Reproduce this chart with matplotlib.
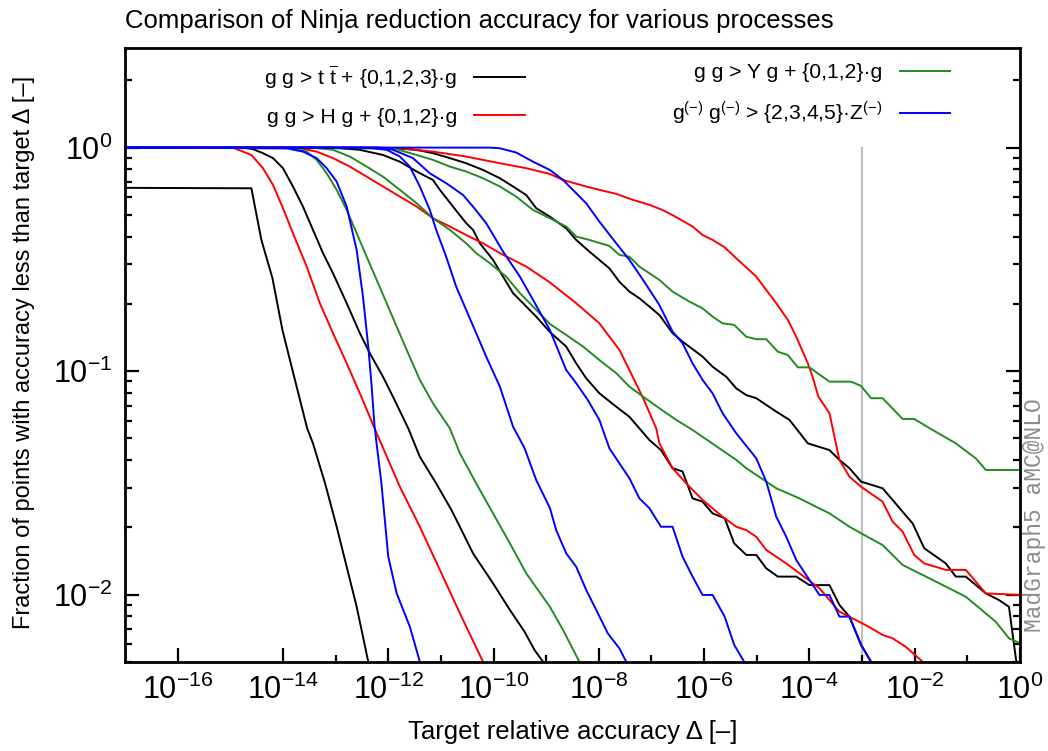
import matplotlib
matplotlib.use("Agg")
import matplotlib.pyplot as plt
import numpy as np
from matplotlib.ticker import FixedLocator, LogLocator, NullFormatter

plt.rcParams['font.family'] = ['Liberation Sans', 'DejaVu Sans']
plt.rcParams['mathtext.fontset'] = 'custom'
plt.rcParams['mathtext.rm'] = 'Liberation Sans'
plt.rcParams['mathtext.it'] = 'Liberation Sans:italic'
plt.rcParams['mathtext.bf'] = 'Liberation Sans:bold'

# curves, stored as log10(Delta) and log10(fraction)
# g g > t tbar + {0,1,2,3} g  (black)
tt0_x = [-17.0, -14.60, -14.41, -14.20, -14.01, -13.82, -13.54, -13.43, -13.20, -12.98, -12.79, -12.60, -12.38]
tt0_y = [-0.180, -0.182, -0.413, -0.584, -0.816, -0.995, -1.256, -1.323, -1.502, -1.696, -1.875, -2.054, -2.300]
tt1_x = [-17.0, -14.76, -14.57, -14.38, -14.19, -14.00, -13.81, -13.62, -13.43, -13.24, -13.05, -12.79, -12.54, -12.35,
         -12.10, -11.88, -11.62, -11.40, -11.09, -10.80, -10.64, -10.39, -10.01, -9.69, -9.41, -9.22, -9.06]
tt1_y = [0, 0, -0.007, -0.025, -0.047, -0.092, -0.174, -0.264, -0.368, -0.472, -0.562, -0.696, -0.830, -0.920,
         -1.025, -1.129, -1.256, -1.383, -1.502, -1.621, -1.696, -1.815, -1.949, -2.068, -2.166, -2.248, -2.300]
tt2_x = [-17.0, -13.05, -12.54, -12.10, -11.78, -11.46, -11.15, -11.02, -10.77, -10.52, -10.39, -10.26, -10.01, -9.82,
         -9.63, -9.44, -9.19, -8.93, -8.62, -8.43, -8.24, -7.99, -7.67, -7.42, -7.04, -6.82, -6.60, -6.41, -6.22,
         -6.03, -5.84, -5.61, -5.43, -5.20, -5.01, -4.82, -4.60, -4.25, -4.00, -3.62, -3.43, -3.24, -3.02, -2.83]
tt2_y = [0, 0, -0.010, -0.033, -0.063, -0.107, -0.145, -0.189, -0.264, -0.338, -0.368, -0.428, -0.502, -0.577,
         -0.651, -0.696, -0.756, -0.825, -0.890, -0.965, -1.032, -1.099, -1.159, -1.204, -1.308, -1.353, -1.434, -1.449, -1.569,
         -1.584, -1.636, -1.658, -1.770, -1.822, -1.822, -1.882, -1.919, -1.919, -1.957, -1.957, -2.046, -2.098, -2.224, -2.300]
tt3_x = [-17.0, -11.91, -11.46, -11.15, -10.83, -10.52, -10.20, -9.88, -9.63, -9.38, -9.19, -8.93, -8.62, -8.43,
         -8.18, -7.80, -7.61, -7.42, -7.23, -7.04, -6.85, -6.60, -6.41, -6.03, -5.84, -5.58, -5.39, -5.20, -5.01,
         -4.63, -4.38, -4.03, -3.62, -3.43, -3.24, -3.02, -2.61, -2.42, -2.23, -2.04, -1.82, -1.41, -1.22, -1.03,
         -0.65, -0.40, -0.21, -0.07]
tt3_y = [0, -0.003, -0.010, -0.025, -0.047, -0.070, -0.100, -0.137, -0.174, -0.212, -0.271, -0.309, -0.361, -0.413,
         -0.465, -0.540, -0.600, -0.644, -0.674, -0.711, -0.749, -0.830, -0.868, -0.935, -0.980, -1.025, -1.077, -1.107, -1.121,
         -1.181, -1.218, -1.323, -1.353, -1.397, -1.434, -1.494, -1.524, -1.576, -1.629, -1.681, -1.792, -1.860, -1.919, -1.919,
         -1.994, -2.024, -2.054, -2.300]

# g g > H g + {0,1,2} g  (red)
h0_x = [-17.0, -14.95, -14.60, -14.38, -14.19, -14.00, -13.81, -13.55, -13.30, -13.05, -12.79, -12.54, -12.22, -11.78,
        -11.40, -11.02, -10.64, -10.20]
h0_y = [0, 0, -0.033, -0.092, -0.167, -0.271, -0.383, -0.532, -0.696, -0.830, -0.965, -1.099, -1.278, -1.517,
        -1.696, -1.889, -2.083, -2.300]
h1_x = [-17.0, -13.68, -13.36, -13.05, -12.73, -12.41, -12.10, -11.78, -11.46, -11.15, -10.83, -10.52, -10.20, -9.88,
        -9.38, -8.93, -8.43, -7.99, -7.61, -7.42, -7.16, -6.91, -6.85, -6.60, -6.34, -6.03, -5.65, -5.39, -5.20,
        -5.01, -4.82, -4.44, -4.19, -3.81, -3.43, -3.18, -2.93, -2.61, -2.42, -2.17, -1.85]
h1_y = [0, -0.003, -0.018, -0.047, -0.085, -0.130, -0.174, -0.219, -0.264, -0.316, -0.353, -0.391, -0.428, -0.472,
        -0.532, -0.603, -0.696, -0.786, -0.905, -0.995, -1.120, -1.256, -1.323, -1.434, -1.502, -1.576, -1.651, -1.696, -1.711,
        -1.741, -1.800, -1.860, -1.904, -1.971, -2.076, -2.106, -2.136, -2.180, -2.195, -2.233, -2.300]
h2_x = [-17.0, -12.16, -11.78, -11.15, -10.52, -9.88, -9.38, -8.93, -8.68, -8.24, -7.99, -7.67, -7.35, -7.04, -6.79,
        -6.53, -6.22, -6.03, -5.84, -5.61, -5.39, -5.01, -4.82, -4.63, -4.41, -4.25, -4.03, -3.94, -3.83, -3.62,
        -3.43, -3.24, -3.02, -2.61, -2.42, -2.23, -2.01, -1.82, -1.41, -1.03, -0.65, 0.0]
h2_y = [0, 0, -0.003, -0.018, -0.040, -0.070, -0.092, -0.118, -0.145, -0.174, -0.189, -0.207, -0.234, -0.256, -0.279,
        -0.311, -0.353, -0.391, -0.413, -0.446, -0.495, -0.577, -0.637, -0.696, -0.771, -0.846, -0.965, -1.025, -1.114, -1.188,
        -1.397, -1.472, -1.517, -1.584, -1.673, -1.718, -1.822, -1.860, -1.889, -1.889, -1.994, -2.001]

# g g > Y g + {0,1,2} g  (green)
y0_x = [-17.0, -13.81, -13.55, -13.36, -13.17, -12.98, -12.79, -12.60, -12.41, -12.22, -12.03, -11.84, -11.65, -11.40,
        -11.15, -10.83, -10.64, -10.33, -10.01, -9.69, -9.38, -8.93, -8.68, -8.37]
y0_y = [0, -0.003, -0.018, -0.055, -0.115, -0.189, -0.279, -0.383, -0.488, -0.592, -0.696, -0.801, -0.905, -1.039,
        -1.144, -1.256, -1.367, -1.502, -1.636, -1.770, -1.904, -2.054, -2.158, -2.300]
y1_x = [-17.0, -13.43, -13.05, -12.73, -12.41, -12.10, -11.78, -11.46, -11.15, -10.83, -10.52, -10.33, -10.07, -9.76,
        -9.50, -9.25, -8.93, -8.62, -8.30, -7.99, -7.67, -7.42, -7.16, -6.85, -6.53, -6.22, -5.39, -5.20, -4.63,
        -4.19, -3.88, -3.62, -3.24, -3.02, -2.61, -2.23, -1.66, -1.03, -0.46, -0.21, 0.0]
y1_y = [0, 0, -0.010, -0.040, -0.085, -0.130, -0.189, -0.249, -0.316, -0.368, -0.428, -0.472, -0.517, -0.577,
        -0.651, -0.711, -0.789, -0.838, -0.890, -0.950, -1.009, -1.069, -1.114, -1.166, -1.218, -1.263, -1.397, -1.434, -1.524,
        -1.569, -1.606, -1.636, -1.696, -1.725, -1.778, -1.867, -1.934, -2.009, -2.121, -2.195, -2.217]
y2_x = [-17.0, -11.91, -11.46, -11.15, -10.83, -10.52, -10.20, -9.88, -9.57, -9.25, -8.93, -8.62, -8.43, -8.18, -7.80,
        -7.61, -7.42, -7.23, -7.04, -6.85, -6.60, -6.28, -6.03, -5.84, -5.65, -5.43, -5.20, -5.01, -4.82, -4.60,
        -4.41, -4.22, -4.00, -3.62, -3.21, -3.02, -2.83, -2.61, -2.23, -2.01, -1.66, -1.22, -0.84, -0.65, 0.0]
y2_y = [0, -0.003, -0.033, -0.055, -0.085, -0.107, -0.137, -0.174, -0.219, -0.279, -0.316, -0.353, -0.398, -0.413, -0.440,
        -0.480, -0.488, -0.532, -0.562, -0.592, -0.644, -0.689, -0.719, -0.756, -0.786, -0.793, -0.846, -0.857, -0.857, -0.913,
        -0.928, -0.983, -0.983, -1.047, -1.047, -1.066, -1.121, -1.121, -1.214, -1.214, -1.263, -1.323, -1.390, -1.442, -1.442]

# g g > {2,3,4,5} Z  (blue)
z0_x = [-17.0, -13.93, -13.62, -13.36, -13.17, -12.98, -12.79, -12.60, -12.48, -12.38, -12.32, -12.26, -12.13, -12.00,
        -11.84, -11.59, -11.40]
z0_y = [0, -0.003, -0.018, -0.047, -0.092, -0.152, -0.264, -0.458, -0.667, -0.890, -1.054, -1.248, -1.502, -1.830,
        -1.994, -2.143, -2.300]
z1_x = [-17.0, -12.41, -12.03, -11.78, -11.59, -11.40, -11.21, -11.09, -10.90, -10.71, -10.52, -10.33, -10.14, -9.88,
        -9.63, -9.41, -9.19, -8.93, -8.81, -8.62, -8.43, -8.24, -8.05, -7.83, -7.61, -7.48]
z1_y = [0, 0, -0.010, -0.040, -0.085, -0.174, -0.279, -0.368, -0.488, -0.622, -0.726, -0.830, -0.935, -1.069,
        -1.248, -1.345, -1.487, -1.612, -1.711, -1.815, -1.875, -1.979, -2.068, -2.173, -2.240, -2.300]
z2_x = [-17.0, -12.20, -11.91, -11.53, -11.21, -10.90, -10.58, -10.39, -10.14, -9.82, -9.50, -9.25, -8.93, -8.62,
        -8.43, -8.21, -7.99, -7.80, -7.42, -7.23, -7.04, -6.82, -6.60, -6.41, -6.22, -6.03, -5.84, -5.61, -5.43, -5.24]
z2_y = [0, 0, -0.010, -0.047, -0.115, -0.159, -0.212, -0.264, -0.338, -0.465, -0.577, -0.681, -0.816, -0.995,
        -1.054, -1.129, -1.218, -1.345, -1.479, -1.569, -1.613, -1.696, -1.696, -1.830, -1.919, -2.001, -2.001, -2.098, -2.224, -2.300]
z3_x = [-17.0, -10.07, -9.88, -9.57, -9.25, -8.93, -8.68, -8.24, -7.99, -7.67, -7.42, -7.16, -6.85, -6.60, -6.41,
        -6.22, -6.03, -5.84, -5.65, -5.39, -5.01, -4.82, -4.63, -4.44, -4.25, -4.00, -3.81, -3.62, -3.43, -3.24,
        -3.02, -2.83]
z3_y = [0, 0, -0.003, -0.022, -0.063, -0.100, -0.145, -0.249, -0.331, -0.428, -0.502, -0.592, -0.704, -0.823, -0.875,
        -0.965, -1.039, -1.099, -1.188, -1.278, -1.390, -1.494, -1.651, -1.741, -1.845, -1.934, -2.001, -2.001, -2.098, -2.098,
        -2.224, -2.300]

groups = [
    ('black', r'g g > t $\overline{\mathrm{t}}$ + {0,1,2,3}·g', [(tt0_x, tt0_y), (tt1_x, tt1_y), (tt2_x, tt2_y), (tt3_x, tt3_y)]),
    ('#ff0000', 'g g > H g + {0,1,2}·g', [(h0_x, h0_y), (h1_x, h1_y), (h2_x, h2_y)]),
    ('#228b22', 'g g > Y g + {0,1,2}·g', [(y0_x, y0_y), (y1_x, y1_y), (y2_x, y2_y)]),
    ('#0000ff', r'g$^{(-)}$ g$^{(-)}$ > {2,3,4,5}·Z$^{(-)}$', [(z0_x, z0_y), (z1_x, z1_y), (z2_x, z2_y), (z3_x, z3_y)]),
]

fig = plt.figure(figsize=(10.48, 7.51), dpi=100)
ax = fig.add_axes([0.1193, 0.1185, 0.8540, 0.8176])

handles = []
for color, label, curves in groups:
    for i, (lx, ly) in enumerate(curves):
        ln, = ax.plot(10.0 ** np.array(lx), 10.0 ** np.array(ly), color=color, lw=1.4,
                      label=label if i == 0 else None)
        if i == 0:
            handles.append(ln)

# target accuracy marker
ax.plot([1e-3, 1e-3], [1.0, 1e-3], color='#c0c0c0', lw=1.6, zorder=0)

ax.set_xscale('log')
ax.set_yscale('log')
ax.set_xlim(1e-17, 1.0)
ax.set_ylim(5e-3, 2.79)

ax.xaxis.set_major_locator(FixedLocator([10.0 ** k for k in range(-16, 1, 2)]))
ax.xaxis.set_minor_locator(FixedLocator([10.0 ** k for k in range(-13, 0, 2)]))
ax.xaxis.set_minor_formatter(NullFormatter())
ax.yaxis.set_major_locator(FixedLocator([1e-2, 1e-1, 1.0]))
ax.yaxis.set_minor_locator(LogLocator(base=10, subs=np.arange(2, 10)))
ax.yaxis.set_minor_formatter(NullFormatter())

ax.tick_params(which='both', direction='in', top=False, right=True, labelsize=22, width=1.6)
ax.tick_params(which='major', length=10, pad=9)
ax.tick_params(which='minor', length=5)
for sp in ax.spines.values():
    sp.set_linewidth(2.0)

ax.set_xlabel('Target relative accuracy Δ [–]', fontsize=18.5, labelpad=10)
ax.set_ylabel('Fraction of points with accuracy less than target Δ [–]', fontsize=17)
ax.yaxis.set_label_coords(-0.101, 0.504)
fig.text(125 / 1048, 1 - 21 / 751, 'Comparison of Ninja reduction accuracy for various processes',
         ha='left', va='center', fontsize=18.5)

leg_kw = dict(loc='upper right', frameon=False, markerfirst=False, fontsize=15.2, handlelength=2.4,
              handletextpad=0.8, labelspacing=0.81, borderpad=0, borderaxespad=0)
leg1 = ax.legend(handles[:2], [groups[0][1], groups[1][1]], bbox_to_anchor=(0.447, 0.975), **leg_kw)
ax.add_artist(leg1)
ax.legend(handles[2:], [groups[2][1], groups[3][1]], bbox_to_anchor=(0.922, 0.975), **leg_kw)

fig.text(1035 / 1048, 1 - 515 / 751, 'MadGraph5 aMC@NLO', rotation=90, family='Liberation Mono',
         color='#8c8c8c', ha='center', va='center', fontsize=16.5)

fig.savefig('out.png', dpi=100)
